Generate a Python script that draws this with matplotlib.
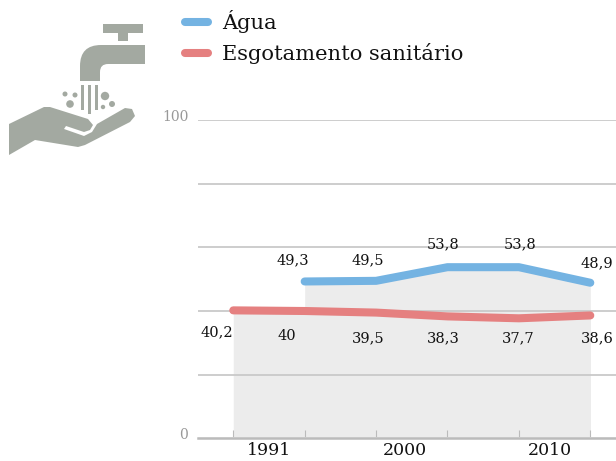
import matplotlib
matplotlib.use('Agg')
import matplotlib.pyplot as plt
from matplotlib.patches import Circle, PathPatch, Polygon, Rectangle
from matplotlib.path import Path
from matplotlib.transforms import ScaledTranslation

# datos
agua = [49.3, 49.5, 53.8, 53.8, 48.9]
esgoto = [40.2, 40, 39.5, 38.3, 37.7, 38.6]
x_agua = [1, 2, 3, 4, 5]
x_esgoto = [0, 1, 2, 3, 4, 5]
anos = ['1991', '2000', '2010']
pos_anos = [0.5, 2.4, 4.43]
y_ticks = [0, 20, 40, 60, 80, 100]
y_labels = ['0', '', '', '', '', '100']

# desplazamiento de las etiquetas en pixeles
off_agua = [(-12, 21), (-8, 21), (-4, 23), (1, 23), (7, 19)]
off_esgoto = [(-16, -22), (-18, -25), (-8, -26), (-4, -22), (-1, -20), (7, -23)]

AZUL = '#74b3e2'
ROJO = '#e58080'
GRIS_ICONO = '#a3a9a1'
FUENTE = 'DejaVu Serif'

plt.rcParams['font.family'] = FUENTE

fig = plt.figure(figsize=(6.16, 4.61), dpi=100)
ax = fig.add_axes([198 / 616, (461 - 438) / 461, 418 / 616, 317.5 / 461])

# area gris debajo de las lineas
ax.fill_between(x_esgoto, esgoto, 0, color='#ececec', lw=0, zorder=1)
ax.fill_between(x_agua, agua, 0, color='#ececec', lw=0, zorder=1)

ax.set_xlim(-0.494, 5.36)
ax.set_ylim(0, 100)

ax.plot(x_agua, agua, color=AZUL, lw=5.8, solid_capstyle='round',
        solid_joinstyle='round', label='Água', zorder=3)
ax.plot(x_esgoto, esgoto, color=ROJO, lw=5.8, solid_capstyle='round',
        solid_joinstyle='round', label='Esgotamento sanitário', zorder=3)

for xs, vals, offs in [(x_agua, agua, off_agua), (x_esgoto, esgoto, off_esgoto)]:
    for xv, v, o in zip(xs, vals, offs):
        ax.annotate(f'{v:g}'.replace('.', ','), (xv, v), xytext=o,
                    textcoords='offset pixels', ha='center', va='center',
                    fontsize=10.5, color='#111111', zorder=4)

# ejes
ax.set_yticks(y_ticks)
ax.set_yticklabels(y_labels, color='#999999', fontsize=10)
ax.tick_params(axis='y', length=0, pad=7)
for lab in ax.get_yticklabels():
    lab.set_transform(lab.get_transform() + ScaledTranslation(0, 0.05, fig.dpi_scale_trans))
ax.yaxis.grid(True, color='#c9c9c9', lw=1.3)
ax.set_axisbelow(False)

ax.set_xticks(x_esgoto)
ax.set_xticklabels([])
ax.tick_params(axis='x', which='major', direction='in', length=6, width=0.8, color='#bbbbbb')
ax.set_xticks(pos_anos, minor=True)
ax.set_xticklabels(anos, minor=True, fontsize=12.5, color='#111111')
ax.tick_params(axis='x', which='minor', length=0, pad=3)

for s in ['top', 'left', 'right']:
    ax.spines[s].set_visible(False)
ax.spines['bottom'].set_color('#bbbbbb')
ax.spines['bottom'].set_linewidth(1.8)

leg = fig.legend(loc='upper left', bbox_to_anchor=(185 / 616, 1 - 10 / 461), frameon=False,
                 fontsize=15.1, handlelength=1.1, handletextpad=0.67, labelspacing=0.5,
                 borderpad=0, borderaxespad=0)
for t in leg.get_texts():
    t.set_color('#111111')

# icono: grifo y mano, en pixeles de la figura
ic = fig.add_axes([0, 0, 1, 1], zorder=5)
ic.set_xlim(0, 616)
ic.set_ylim(461, 0)
ic.axis('off')
ic.patch.set_alpha(0)

ic.add_patch(Rectangle((103, 24), 40, 9, color=GRIS_ICONO, lw=0))
ic.add_patch(Rectangle((118, 33), 10, 8, color=GRIS_ICONO, lw=0))
grifo = Path([(145, 45), (145, 64), (108, 64), (100, 64), (100, 72), (100, 81), (80, 81),
              (80, 66), (80, 45), (101, 45), (145, 45)],
             [Path.MOVETO, Path.LINETO, Path.LINETO, Path.CURVE3, Path.CURVE3, Path.LINETO,
              Path.LINETO, Path.LINETO, Path.CURVE3, Path.CURVE3, Path.LINETO])
ic.add_patch(PathPatch(grifo, color=GRIS_ICONO, lw=0))

for x0, h in [(81, 25), (88, 29), (95, 25)]:
    ic.add_patch(Rectangle((x0, 85), 3, h, color=GRIS_ICONO, lw=0))
for cx, cy, r in [(65, 94, 2.5), (75, 95, 2.5), (70, 104, 3.8), (105, 96, 4.2), (112, 104, 3), (103, 107, 2.2)]:
    ic.add_patch(Circle((cx, cy), r, color=GRIS_ICONO, lw=0))

mano = [(9, 124), (44, 107), (50, 107), (88, 119), (93, 125), (90, 130), (84, 132), (66, 126),
        (64, 129), (84, 136), (92, 132), (97, 124), (125, 108), (132, 109), (135, 116),
        (130, 122), (85, 145), (78, 147), (35, 140), (9, 155)]
ic.add_patch(Polygon(mano, closed=True, color=GRIS_ICONO, lw=0))

fig.savefig('out.png', dpi=100)
